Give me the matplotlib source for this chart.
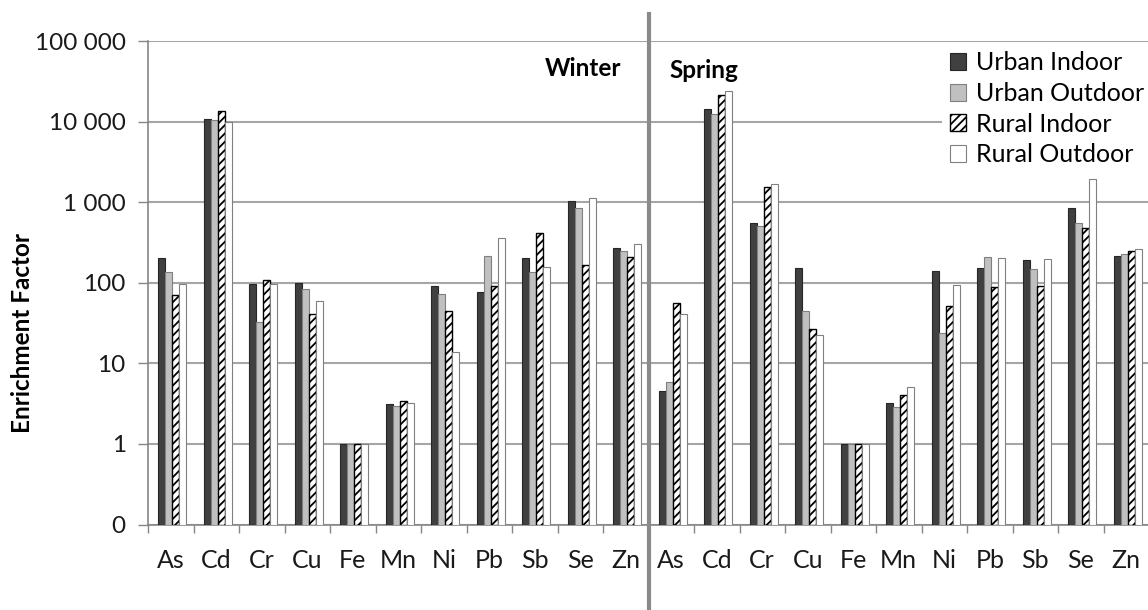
import matplotlib
matplotlib.use('Agg')
import matplotlib.pyplot as plt
import numpy as np
from matplotlib.ticker import FixedLocator, FixedFormatter

plt.rcParams['font.family'] = ['Lato', 'DejaVu Sans']
plt.rcParams['hatch.linewidth'] = 1.3

elements = ['As', 'Cd', 'Cr', 'Cu', 'Fe', 'Mn', 'Ni', 'Pb', 'Sb', 'Se', 'Zn']
labels = elements + elements

# winter then spring
urban_indoor = [205, 10800, 97, 100, 1, 3.13, 90, 77, 205, 1020, 272,
                4.5, 14400, 555, 152, 1, 3.2, 141, 152, 190, 850, 216]
urban_outdoor = [137, 10400, 33, 84, 1, 2.93, 73, 215, 135, 850, 247,
                 5.9, 12300, 500, 44.6, 1, 2.9, 23.8, 208, 149, 555, 227]
rural_indoor = [70, 13600, 107, 41, 1, 3.4, 44, 92, 414, 164, 210,
                56.5, 21300, 1530, 27, 1, 4.0, 51, 88, 90, 472, 247]
rural_outdoor = [97, 9800, 97, 60, 1, 3.2, 14, 355, 157, 1135, 304,
                 40.5, 23900, 1690, 22.5, 1, 5.1, 95, 202, 199, 1940, 262]

ytick_vals = [0.1, 1, 10, 100, 1000, 10000, 100000]
ytick_text = ['0', '1', '10', '100', '1 000', '10 000', '100 000']

fig = plt.figure(figsize=(11.48, 6.10), dpi=100)
ax = fig.add_axes([148/1148, 1-524.5/610, 1001/1148, 483.5/610])

base = 0.1
x = np.arange(len(labels))
w = 0.155
sh = 0.03
ax.bar(x - 1.5*w + sh, np.array(urban_indoor) - base, w, bottom=base, color='#404040', edgecolor='#262626', lw=0.8, label='Urban Indoor', zorder=3)
ax.bar(x - 0.5*w + sh, np.array(urban_outdoor) - base, w, bottom=base, color='#c0c0c0', edgecolor='#808080', lw=0.8, label='Urban Outdoor', zorder=3)
ax.bar(x + 0.5*w + sh, np.array(rural_indoor) - base, w, bottom=base, color='white', edgecolor='black', hatch='////', lw=1.0, label='Rural Indoor', zorder=3)
ax.bar(x + 1.5*w + sh, np.array(rural_outdoor) - base, w, bottom=base, color='white', edgecolor='#808080', lw=0.8, label='Rural Outdoor', zorder=3)

ax.set_yscale('log')
ax.set_ylim(0.1, 100000)
ax.set_xlim(-0.5, len(labels) - 0.5)
ax.yaxis.set_major_locator(FixedLocator(ytick_vals))
ax.yaxis.set_major_formatter(FixedFormatter(ytick_text))
ax.yaxis.set_minor_locator(FixedLocator([]))
ax.set_xticks(x)
ax.set_xticklabels(labels)
ax.set_xticks(np.arange(-0.5, len(labels)), minor=True)
ax.tick_params(axis='x', which='major', length=0, pad=18, labelsize=18, labelcolor='#1a1a1a')
ax.tick_params(axis='x', which='minor', length=6, color='#868686', width=1)
ax.tick_params(axis='y', which='major', length=7, color='#868686', width=1, pad=9, labelsize=17.5, labelcolor='#1a1a1a')

ax.grid(axis='y', color='#a6a6a6', lw=1.5, zorder=0)
ax.set_axisbelow(True)
for s in ['top', 'right']:
    ax.spines[s].set_visible(False)
for s in ['left', 'bottom']:
    ax.spines[s].set_color('#868686')
    ax.spines[s].set_linewidth(1.2)

ax.set_ylabel('Enrichment Factor', fontsize=17.5, fontweight='bold')
ax.yaxis.set_label_coords(-0.114, 0.396)

# season divider
ax.axvline(10.5, ymin=-0.177, ymax=1.056, color='#8a8a8a', lw=3, clip_on=False, zorder=5)
tr = ax.get_xaxis_transform()
ax.text(9.9, 0.944, 'Winter', transform=tr, ha='right', va='center', fontsize=17.5, fontweight='bold')
ax.text(10.97, 0.938, 'Spring', transform=tr, ha='left', va='center', fontsize=17.5, fontweight='bold')

leg = ax.legend(loc='upper left', bbox_to_anchor=(942/1148, 1-44/610), bbox_transform=fig.transFigure,
                fontsize=18, frameon=True, fancybox=False, edgecolor='none', facecolor='white', framealpha=1,
                handlelength=0.65, handleheight=0.65, handletextpad=0.4, labelspacing=0.3, borderpad=0.3,
                borderaxespad=0)
leg.set_zorder(6)

fig.savefig('out.png', dpi=100)
